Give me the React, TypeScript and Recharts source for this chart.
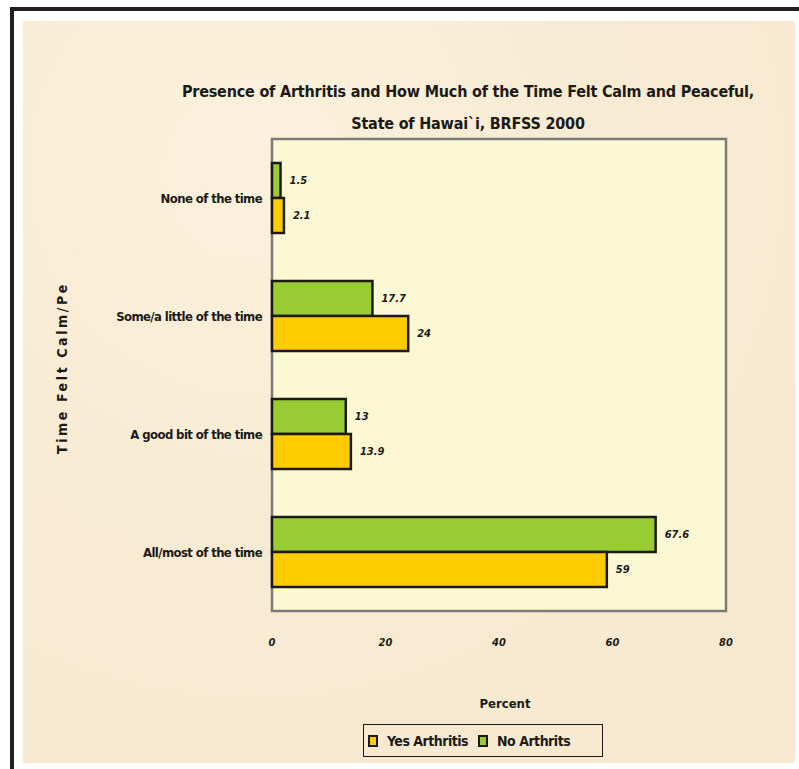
import {
  BarChart, Bar, XAxis, YAxis, ReferenceArea, LabelList
} from 'recharts';

const categories = [
  'None of the time',
  'Some/a little of the time',
  'A good bit of the time',
  'All/most of the time',
];
const yesArthritis = [2.1, 24, 13.9, 59];
const noArthritis = [1.5, 17.7, 13, 67.6];
const xTicks = [0, 20, 40, 60, 80];

const series = [
  { key: 'yes', name: 'Yes Arthritis', color: '#FFCC00' },
  { key: 'no', name: 'No Arthrits', color: '#99CC33' },
];

const FONT = '"Liberation Sans Narrow", "DejaVu Sans Condensed", "Liberation Sans", sans-serif';
const INK = '#1c1a17';

const data = categories.map((category, i) => ({
  category,
  yes: yesArthritis[i],
  no: noArthritis[i],
}));

function YLabel({ viewBox }: any) {
  const cx = viewBox.x + 62;
  const cy = viewBox.y + viewBox.height / 2 - 7;
  return (
    <text
      x={cx}
      y={cy}
      transform={`rotate(-90, ${cx}, ${cy})`}
      textAnchor="middle"
      dominantBaseline="central"
      fill={INK}
      style={{ fontFamily: FONT, fontSize: 14, fontWeight: 700, letterSpacing: 2.6 }}
    >
      Time Felt Calm/Pe
    </text>
  );
}

export default function App() {
  return (
    <div style={{ position: 'absolute', left: 0, top: 0, width: 799, height: 769, background: '#fff', overflow: 'hidden' }}>
      {/* frame */}
      <div style={{ position: 'absolute', left: 10, top: 7, width: 789, height: 3.5, background: '#231f1c' }} />
      <div style={{ position: 'absolute', left: 10, top: 7, width: 4, height: 762, background: '#231f1c' }} />
      <div
        style={{
          position: 'absolute', left: 23, top: 21, width: 772, height: 742,
          background: 'radial-gradient(circle at 30% 20%, #fbf1dc 0%, #f8ebd3 45%, #f7e9cf 100%)',
        }}
      />

      <div
        style={{
          position: 'absolute', left: 68, top: 76, width: 800, textAlign: 'center',
          fontFamily: FONT, fontWeight: 700, fontSize: 16, lineHeight: '32px', color: INK,
          letterSpacing: -0.2, whiteSpace: 'nowrap',
        }}
      >
        <div>Presence of Arthritis and How Much of the Time Felt Calm and Peaceful,</div>
        <div>State of Hawai`i, BRFSS 2000</div>
      </div>

      <div style={{ position: 'absolute', left: 0, top: 0 }}>
        <BarChart
          width={799}
          height={769}
          layout="vertical"
          data={data}
          margin={{ top: 139, right: 73, bottom: 0, left: 0 }}
          barGap={0}
        >
          <XAxis
            type="number"
            domain={[0, 80]}
            ticks={xTicks}
            height={158}
            axisLine={false}
            tickLine={false}
            tickMargin={21}
            tick={{ fill: INK, fontSize: 11, fontWeight: 700, fontStyle: 'italic', fontFamily: FONT }}
            label={{
              value: 'Percent', position: 'insideTop', offset: 88, dx: 6,
              style: { fill: INK, fontSize: 13, fontWeight: 700, fontFamily: FONT },
            }}
          />
          <YAxis
            type="category"
            dataKey="category"
            width={272}
            axisLine={false}
            tickLine={false}
            tickMargin={4}
            tick={{ fill: INK, fontSize: 13, fontWeight: 700, fontFamily: FONT, letterSpacing: -0.6 }}
            label={<YLabel />}
          />
          <ReferenceArea
            x1={0}
            x2={80}
            fill="#fbf8d3"
            fillOpacity={1}
            stroke="#7b7b7b"
            strokeWidth={2.5}
            ifOverflow="extendDomain"
          />
          <Bar dataKey="no" fill="#99CC33" stroke={INK} strokeWidth={2.5} barSize={35} isAnimationActive={false}>
            <LabelList
              dataKey="no"
              position="right"
              offset={9}
              style={{ fill: INK, fontSize: 11, fontWeight: 700, fontStyle: 'italic', fontFamily: FONT }}
            />
          </Bar>
          <Bar dataKey="yes" fill="#FFCC00" stroke={INK} strokeWidth={2.5} barSize={35} isAnimationActive={false}>
            <LabelList
              dataKey="yes"
              position="right"
              offset={9}
              style={{ fill: INK, fontSize: 11, fontWeight: 700, fontStyle: 'italic', fontFamily: FONT }}
            />
          </Bar>
        </BarChart>
      </div>

      {/* legend */}
      <div
        style={{
          position: 'absolute', left: 363, top: 724, width: 238, height: 31,
          border: `1.5px solid ${INK}`, display: 'flex', alignItems: 'center',
          fontFamily: FONT, fontWeight: 700, fontSize: 14, color: INK, letterSpacing: -0.5,
        }}
      >
        {series.map((s) => (
          <div key={s.key} style={{ display: 'flex', alignItems: 'center', marginLeft: 4, marginRight: 6 }}>
            <span
              style={{
                display: 'inline-block', width: 6, height: 8, background: s.color,
                border: `2px solid ${INK}`, marginRight: 9,
              }}
            />
            <span>{s.name}</span>
          </div>
        ))}
      </div>
    </div>
  );
}
